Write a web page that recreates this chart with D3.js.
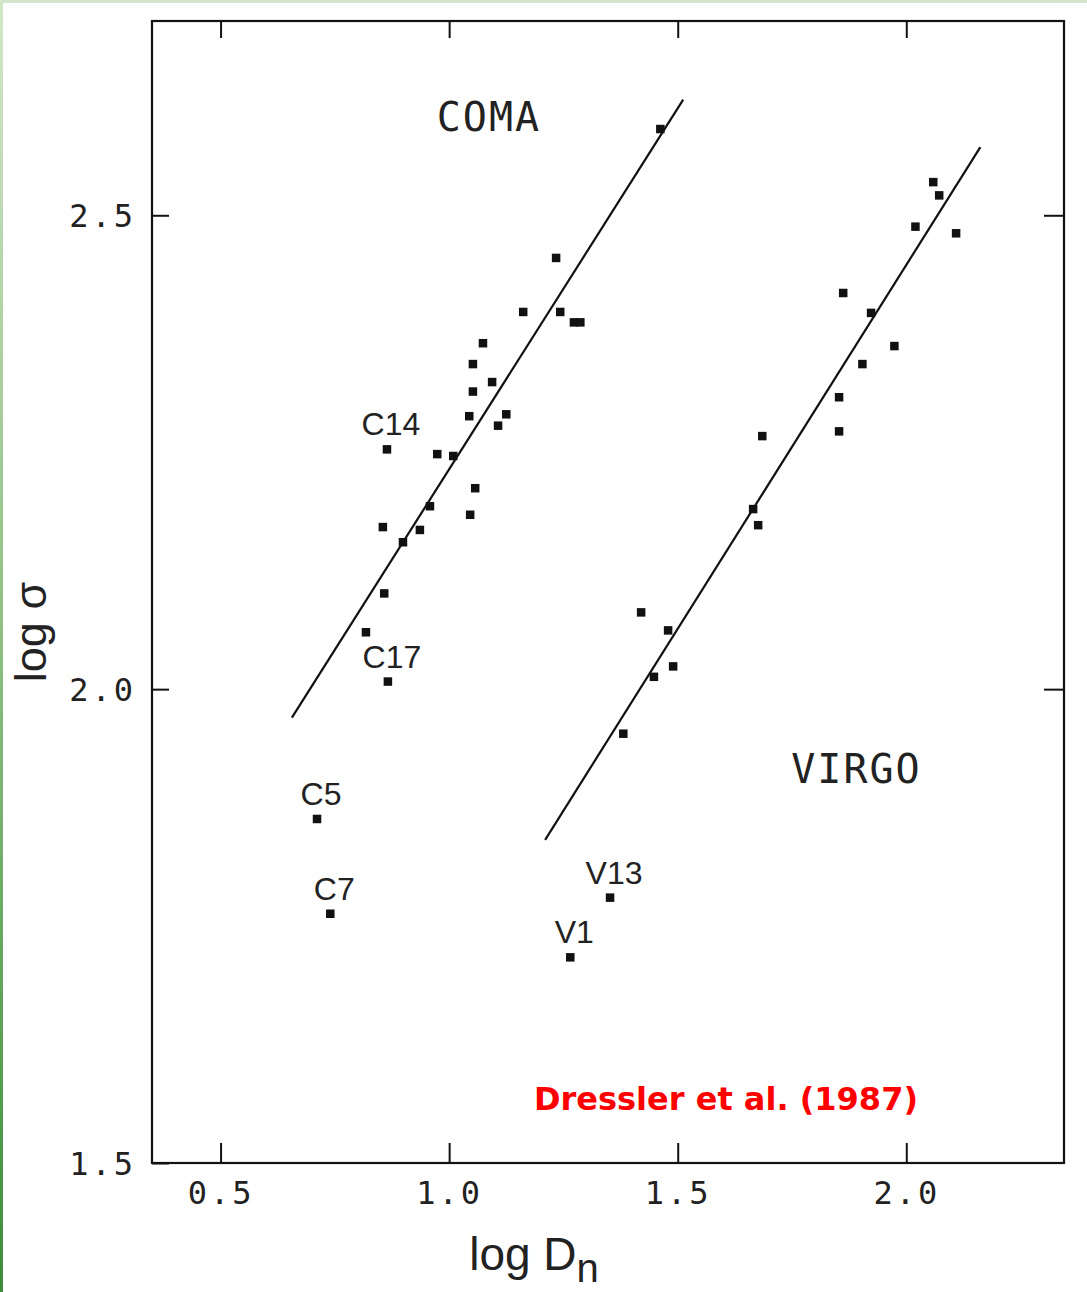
<!DOCTYPE html>
<html><head><meta charset="utf-8">
<script src="https://cdn.jsdelivr.net/npm/d3@7"></script>
<style>html,body{margin:0;padding:0;background:#fff;}svg{display:block;}</style>
</head><body>
<script>
// ---- data ----
const comaX = [1.462,1.234,1.162,1.243,1.273,1.287,1.074,1.052,1.094,1.052,1.044,1.125,1.107,0.864,0.974,1.009,1.057,1.046,0.958,0.855,0.936,0.899,0.858,0.818,0.866,0.711,0.740];
const comaY = [2.591,2.455,2.398,2.398,2.387,2.387,2.365,2.343,2.324,2.314,2.288,2.290,2.278,2.253,2.248,2.246,2.212,2.184,2.193,2.171,2.168,2.155,2.101,2.060,2.008,1.863,1.763];
const virgoX = [2.059,2.072,2.020,2.109,1.862,1.923,1.974,1.904,1.853,1.853,1.685,1.665,1.676,1.420,1.479,1.490,1.448,1.381,1.352,1.265];
const virgoY = [2.535,2.521,2.488,2.481,2.418,2.397,2.362,2.343,2.308,2.272,2.267,2.190,2.173,2.081,2.062,2.024,2.013,1.953,1.780,1.717];
const comaLine = [[0.656,1.970],[1.512,2.622]];
const virgoLine = [[1.210,1.841],[2.162,2.572]];
const pointNames = ["C14","C17","C5","C7","V13","V1"];
const pointNameX = [0.864,0.866,0.711,0.740,1.352,1.265];
const pointNameY = [2.253,2.008,1.863,1.763,1.780,1.717];
const xTicks = [0.5,1.0,1.5,2.0];
const yTicks = [1.5,2.0,2.5];
const xTickLabels = ["0.5","1.0","1.5","2.0"];
const yTickLabels = ["1.5","2.0","2.5"];
const clusterNames = ["COMA","VIRGO"];
const clusterNameX = [1.087,1.891];
const clusterNameY = [2.589,1.901];

const W = 1087, H = 1292;
const svg = d3.select("body").append("svg").attr("width", W).attr("height", H);

// green frame
const grad = svg.append("defs").append("linearGradient").attr("id","lg").attr("x1",0).attr("y1",0).attr("x2",0).attr("y2",1);
grad.append("stop").attr("offset","0%").attr("stop-color","#d3e6c9");
grad.append("stop").attr("offset","50%").attr("stop-color","#8cbf80");
grad.append("stop").attr("offset","100%").attr("stop-color","#3b8d3b");
svg.append("rect").attr("x",0).attr("y",0).attr("width",W).attr("height",3).attr("fill","#d3e6c9");
svg.append("rect").attr("x",0).attr("y",0).attr("width",3).attr("height",H).attr("fill","url(#lg)");

const L = 152, R = 1064, T = 21, B = 1163;
const x = d3.scaleLinear().domain([0.35, 2.345]).range([L, R]);
const y = d3.scaleLinear().domain([1.5, 2.705]).range([B, T]);

const ink = "#111";
// frame
svg.append("rect").attr("x",L).attr("y",T).attr("width",R-L).attr("height",B-T)
  .attr("fill","none").attr("stroke",ink).attr("stroke-width",2.2);

// axes (ticks inward)
const fmtX = (d) => xTickLabels[xTicks.indexOf(d)];
const fmtY = (d) => yTickLabels[yTicks.indexOf(d)];
const axB = svg.append("g").attr("transform",`translate(0,${B})`)
  .call(d3.axisBottom(x).tickValues(xTicks).tickSize(-20).tickPadding(18).tickFormat(fmtX));
const axT = svg.append("g").attr("transform",`translate(0,${T})`)
  .call(d3.axisTop(x).tickValues(xTicks).tickSize(-17).tickFormat(""));
const axL = svg.append("g").attr("transform",`translate(${L},0)`)
  .call(d3.axisLeft(y).tickValues(yTicks).tickSize(-17).tickPadding(16).tickFormat(fmtY));
const axR = svg.append("g").attr("transform",`translate(${R},0)`)
  .call(d3.axisRight(y).tickValues(yTicks.filter(v=>v>1.5)).tickSize(-20).tickFormat(""));
[axB,axT,axL,axR].forEach(g=>{
  g.select(".domain").remove();
  g.selectAll(".tick line").attr("stroke",ink).attr("stroke-width",2);
  g.selectAll(".tick text").attr("fill","#222").attr("font-family","DejaVu Sans Mono, monospace")
    .attr("font-size",32).attr("letter-spacing",3);
});
axB.selectAll(".tick text").attr("dy","0.71em");
axL.selectAll(".tick text").attr("dy","0.35em");

// fit lines
const line = d3.line().x(d=>x(d[0])).y(d=>y(d[1]));
[comaLine, virgoLine].forEach(l=>{
  svg.append("path").attr("d", line(l)).attr("fill","none").attr("stroke",ink).attr("stroke-width",2.2);
});

// points
const sz = 8.5;
const pts = comaX.map((v,i)=>[v,comaY[i]]).concat(virgoX.map((v,i)=>[v,virgoY[i]]));
svg.append("g").selectAll("rect").data(pts).join("rect")
  .attr("x",d=>x(d[0])-sz/2).attr("y",d=>y(d[1])-sz/2).attr("width",sz).attr("height",sz).attr("fill",ink);

// point names
svg.append("g").selectAll("text").data(pointNames).join("text")
  .attr("x",(d,i)=>x(pointNameX[i])+4).attr("y",(d,i)=>y(pointNameY[i])-14)
  .attr("text-anchor","middle").attr("font-family","Liberation Sans, Arial, sans-serif")
  .attr("font-size",32).attr("fill","#222").text(d=>d);

// cluster names
svg.append("g").selectAll("text").data(clusterNames).join("text")
  .attr("x",(d,i)=>x(clusterNameX[i])).attr("y",(d,i)=>y(clusterNameY[i]))
  .attr("text-anchor","middle").attr("font-family","DejaVu Sans Mono, monospace")
  .attr("font-size",40).attr("letter-spacing",2).attr("fill","#222").text(d=>d);

// axis titles
svg.append("text").attr("transform",`translate(46,${(T+B)/2+40}) rotate(-90)`)
  .attr("text-anchor","middle").attr("font-family","Liberation Sans, Arial, sans-serif")
  .attr("font-size",45).attr("fill","#222").text("log σ");
const xt = svg.append("text").attr("x",534).attr("y",1270)
  .attr("text-anchor","middle").attr("font-family","Liberation Sans, Arial, sans-serif")
  .attr("font-size",46).attr("fill","#222");
xt.append("tspan").text("log D");
xt.append("tspan").attr("dy",12).attr("font-size",40).text("n");

// credit
svg.append("text").attr("x",726).attr("y",1110).attr("text-anchor","middle")
  .attr("font-family","DejaVu Sans, Verdana, sans-serif").attr("font-weight","bold")
  .attr("font-size",32).attr("fill","#ff0000").text("Dressler et al. (1987)");
</script>
</body></html>
